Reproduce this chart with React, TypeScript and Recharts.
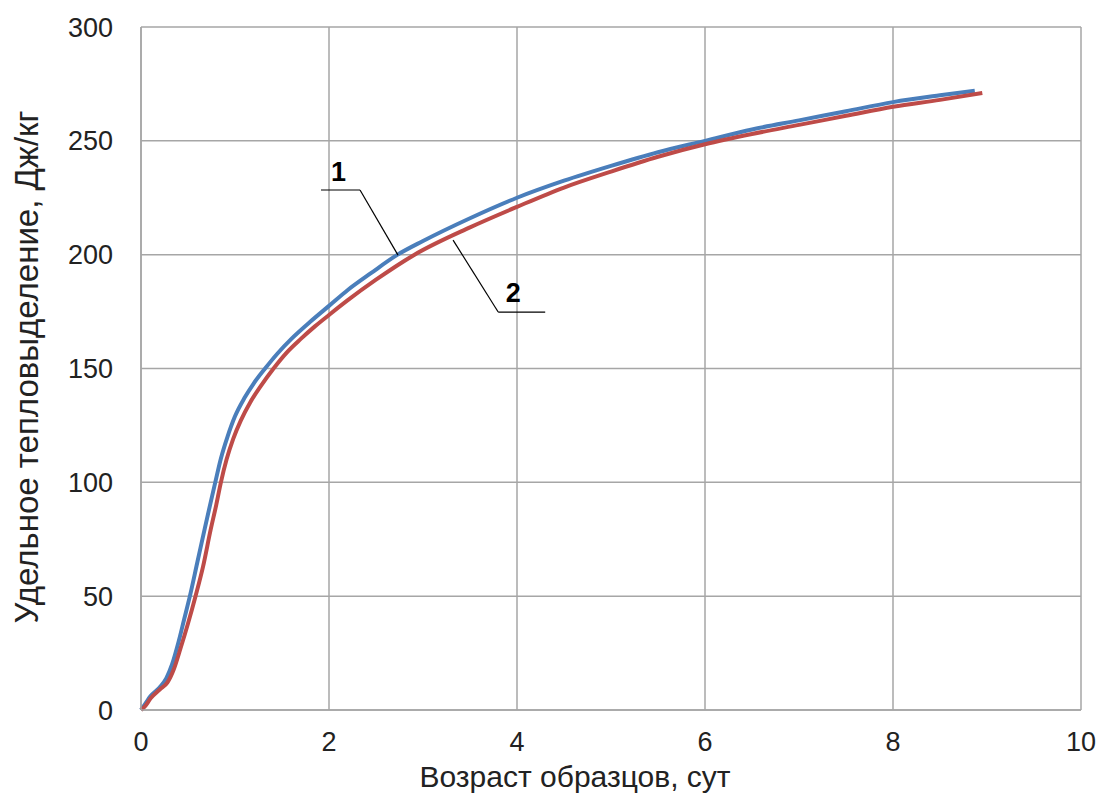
import React from "react";
import { LineChart, Line, XAxis, YAxis, CartesianGrid, ReferenceLine, ReferenceDot } from "recharts";

// series 1 (blue) and series 2 (red): age, days -> specific heat, J/kg
const ageBlue = [0, 0.05, 0.1, 0.2, 0.27, 0.33, 0.4, 0.46, 0.52, 0.6, 0.68, 0.74, 0.79, 0.85, 0.92, 1.0, 1.1, 1.2, 1.32, 1.45, 1.6, 1.8, 2, 2.2, 2.45, 2.73, 3, 3.5, 4, 4.5, 5, 5.5, 6, 6.5, 7, 7.5, 8, 8.5, 8.87];
const heatBlue = [0, 3, 6, 10, 14, 20, 30, 40, 50, 65, 80, 91, 100, 110.5, 120, 129, 137, 143.5, 150, 156.5, 163, 170.5, 177.5, 184.5, 192, 200, 206, 216, 225, 232.5, 239, 245, 250, 255, 259, 263, 267, 270, 272];

const ageRed = [0, 0.05, 0.1, 0.2, 0.28, 0.35, 0.42, 0.5, 0.58, 0.66, 0.74, 0.8, 0.85, 0.91, 0.98, 1.06, 1.16, 1.27, 1.41, 1.55, 1.7, 1.85, 2, 2.2, 2.5, 2.91, 3.5, 4, 4.5, 5, 5.5, 6, 6.5, 7, 7.5, 8, 8.5, 8.95];
const heatRed = [0, 2, 5, 9, 12, 18, 27, 38, 50, 63, 79, 90, 100, 110, 119, 127, 135, 142, 150, 157, 163, 168.5, 173.5, 180, 189, 200, 212, 221, 229.5, 236.5, 243, 248.5, 253, 257, 261, 265, 268, 271];

const xTicks = [0, 2, 4, 6, 8, 10];
const yTicks = [0, 50, 100, 150, 200, 250, 300];

const blue = ageBlue.map((x, i) => ({ x, y: heatBlue[i] }));
const red = ageRed.map((x, i) => ({ x, y: heatRed[i] }));

const font = "'Liberation Sans', Arial, sans-serif";
const grid = "#a6a6a6";
const ink = "#222";

const numLabel = (txt: string) => (p: any) => (
  <text x={p.cx} y={p.cy} textAnchor="middle" dominantBaseline="central" fontFamily={font} fontSize={27} fontWeight="bold" fill="#000">
    {txt}
  </text>
);

export default function App() {
  return (
    <div style={{ position: "absolute", left: 0, top: 0, background: "#fff" }}>
      <LineChart width={1098} height={793} margin={{ top: 27, right: 17, left: 0, bottom: 0 }}>
        <CartesianGrid stroke={grid} strokeWidth={1.5} horizontalValues={yTicks} verticalValues={xTicks} />
        <XAxis
          type="number"
          dataKey="x"
          domain={[0, 10]}
          ticks={xTicks}
          height={83}
          tickLine={false}
          tickSize={0}
          tickMargin={22}
          stroke={grid}
          strokeWidth={1.5}
          tick={{ fill: ink, fontSize: 27, fontFamily: font }}
          label={{ value: "Возраст образцов, сут", position: "insideBottom", offset: 6, dx: -36, fill: ink, fontSize: 30, fontFamily: font }}
        />
        <YAxis
          type="number"
          dataKey="y"
          domain={[0, 300]}
          ticks={yTicks}
          width={141}
          tickLine={false}
          tickSize={0}
          tickMargin={28}
          stroke={grid}
          strokeWidth={1.5}
          tick={{ fill: ink, fontSize: 27, fontFamily: font }}
          label={() => (
            <text transform="rotate(-90 26 367)" x={26} y={367} textAnchor="middle" dominantBaseline="central" fill={ink} fontSize={33} fontFamily={font}>
              Удельное тепловыделение, Дж/кг
            </text>
          )}
        />
        <Line data={blue} dataKey="y" type="monotone" stroke="#4a7ebb" strokeWidth={4} dot={false} isAnimationActive={false} />
        <Line data={red} dataKey="y" type="monotone" stroke="#be4b48" strokeWidth={4} dot={false} isAnimationActive={false} />
        <ReferenceLine segment={[{ x: 1.915, y: 228.4 }, { x: 2.33, y: 228.4 }]} stroke="#000" strokeWidth={1.2} />
        <ReferenceLine segment={[{ x: 2.33, y: 228.4 }, { x: 2.734, y: 199.8 }]} stroke="#000" strokeWidth={1.2} />
        <ReferenceLine segment={[{ x: 3.32, y: 206.4 }, { x: 3.8, y: 174.8 }]} stroke="#000" strokeWidth={1.2} />
        <ReferenceLine segment={[{ x: 3.8, y: 174.8 }, { x: 4.3, y: 174.8 }]} stroke="#000" strokeWidth={1.2} />
        <ReferenceDot x={2.1} y={236.3} r={0} shape={numLabel("1")} />
        <ReferenceDot x={3.96} y={183.1} r={0} shape={numLabel("2")} />
      </LineChart>
    </div>
  );
}
